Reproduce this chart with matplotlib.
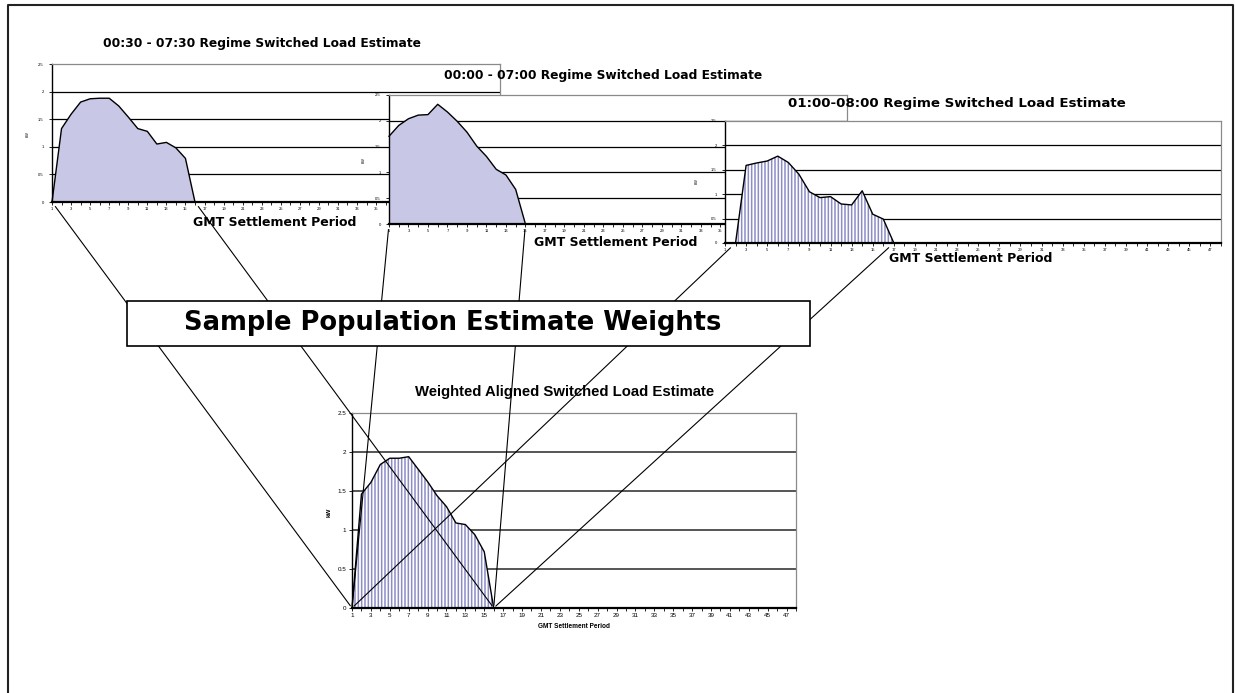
import numpy as np
import matplotlib.pyplot as plt
from matplotlib.patches import ConnectionPatch, Rectangle

plt.rcParams['font.family'] = ['Liberation Sans', 'DejaVu Sans']
plt.rcParams['hatch.linewidth'] = 1.1

W, H = 1235, 693

# settlement periods and axis labels
periods = np.arange(1, 49)
period_ticks = np.arange(1, 48, 2)
kw_ticks = [0, 0.5, 1, 1.5, 2, 2.5]
kw_labels = ['0', '0.5', '1', '1.5', '2', '2.5']

# switched load estimates (kW) per regime
load_0030 = [0.0, 1.33, 1.59, 1.81, 1.87, 1.88, 1.88, 1.74, 1.54, 1.33, 1.28, 1.05,
             1.08, 0.98, 0.79, 0.0, 0.0, 0.0, 0.0, 0.0, 0.0, 0.0, 0.0, 0.0,
             0.0, 0.0, 0.0, 0.0, 0.0, 0.0, 0.0, 0.0, 0.0, 0.0, 0.0, 0.0,
             0.0, 0.0, 0.0, 0.0, 0.0, 0.0, 0.0, 0.0, 0.0, 0.0, 0.0, 0.0]
load_0000 = [1.70, 1.91, 2.04, 2.11, 2.12, 2.32, 2.17, 1.99, 1.78, 1.51, 1.31, 1.06,
             0.95, 0.67, 0.0, 0.0, 0.0, 0.0, 0.0, 0.0, 0.0, 0.0, 0.0, 0.0,
             0.0, 0.0, 0.0, 0.0, 0.0, 0.0, 0.0, 0.0, 0.0, 0.0, 0.0, 0.0,
             0.0, 0.0, 0.0, 0.0, 0.0, 0.0, 0.0, 0.0, 0.0, 0.0, 0.0, 0.0]
load_0100 = [0.0, 0.0, 1.59, 1.64, 1.68, 1.78, 1.65, 1.41, 1.05, 0.93, 0.95, 0.80,
             0.78, 1.07, 0.59, 0.49, 0.0, 0.0, 0.0, 0.0, 0.0, 0.0, 0.0, 0.0,
             0.0, 0.0, 0.0, 0.0, 0.0, 0.0, 0.0, 0.0, 0.0, 0.0, 0.0, 0.0,
             0.0, 0.0, 0.0, 0.0, 0.0, 0.0, 0.0, 0.0, 0.0, 0.0, 0.0, 0.0]
load_weighted = [0.0, 1.46, 1.61, 1.84, 1.92, 1.92, 1.94, 1.78, 1.62, 1.44, 1.30, 1.09,
                 1.07, 0.94, 0.72, 0.0, 0.0, 0.0, 0.0, 0.0, 0.0, 0.0, 0.0, 0.0,
                 0.0, 0.0, 0.0, 0.0, 0.0, 0.0, 0.0, 0.0, 0.0, 0.0, 0.0, 0.0,
                 0.0, 0.0, 0.0, 0.0, 0.0, 0.0, 0.0, 0.0, 0.0, 0.0, 0.0, 0.0]

# first and last period of each load block (used for the connector lines)
span_0030 = (1, 16)
span_0000 = (1, 15)
span_0100 = (2, 17)
span_weighted = (1, 16)

fig = plt.figure(figsize=(W / 100, H / 100), dpi=100)


def px_axes(x0, y0, x1, y1, z):
    # axes placed by pixel box, origin top-left
    ax = fig.add_axes([x0 / W, 1 - y1 / H, (x1 - x0) / W, (y1 - y0) / H])
    ax.set_zorder(z)
    return ax


def draw_chart(ax, values, striped, tick_size, grid_color, grid_lw, ypad):
    ax.set_facecolor('white')
    ax.set_xlim(1, 48)
    ax.set_ylim(0, 2.5)
    for v in kw_ticks[1:-1]:
        ax.axhline(v, color=grid_color, lw=grid_lw, zorder=0.5)
    if striped:
        ax.fill_between(periods, values, 0, facecolor='white', edgecolor='#8c8cc8',
                        hatch='|||||', linewidth=0, zorder=1)
    else:
        ax.fill_between(periods, values, 0, facecolor='#c8c8e6', linewidth=0, zorder=1)
    ax.plot(periods, values, color='black', lw=1.0, zorder=2, clip_on=False)
    ax.set_xticks(period_ticks)
    ax.set_xticks(periods, minor=True)
    ax.set_xticklabels([str(p) for p in period_ticks])
    ax.set_yticks(kw_ticks)
    ax.set_yticklabels(kw_labels)
    ax.tick_params(axis='both', which='both', direction='out', length=2, width=0.6,
                   labelsize=tick_size)
    ax.tick_params(axis='y', pad=ypad)
    ax.tick_params(axis='x', pad=1.5)
    for side in ('top', 'right'):
        ax.spines[side].set_color('#8a8a8a')
        ax.spines[side].set_linewidth(0.9)
    ax.spines['left'].set_linewidth(1.0)
    ax.spines['bottom'].set_linewidth(1.6)


ax1 = px_axes(52, 64, 500, 202, 1)
draw_chart(ax1, load_0030, False, 3, 'black', 0.9, 4)

ax2 = px_axes(389, 95, 847, 224, 2)
draw_chart(ax2, load_0000, False, 3, 'black', 0.9, 4)

ax3 = px_axes(725, 121, 1221, 243, 3)
draw_chart(ax3, load_0100, True, 3, 'black', 0.9, 4)

ax4 = px_axes(352, 413, 796, 608, 4)
draw_chart(ax4, load_weighted, True, 4.5, '#555555', 1.4, 2)

# overlay in pixel coordinates for texts, connectors and the weights box
ov = fig.add_axes([0, 0, 1, 1])
ov.set_xlim(0, W)
ov.set_ylim(H, 0)
ov.axis('off')
ov.set_zorder(10)

wide = ['DejaVu Sans']
title_kw = dict(ha='center', va='center', fontsize=8.8, fontweight='bold', family=wide)
ov.text(262, 43, '00:30 - 07:30 Regime Switched Load Estimate', **title_kw)
ov.text(603, 75, '00:00 - 07:00 Regime Switched Load Estimate', **title_kw)
ov.text(957, 103, '01:00-08:00 Regime Switched Load Estimate',
        **dict(title_kw, fontsize=9.6))

xl_kw = dict(ha='center', va='center', fontsize=9, fontweight='bold', family=wide)
ov.text(275, 222, 'GMT Settlement Period', **xl_kw)
ov.text(616, 243, 'GMT Settlement Period', **xl_kw)
ov.text(971, 259, 'GMT Settlement Period', **xl_kw)

yl_kw = dict(ha='center', va='center', fontsize=3, rotation=90)
ov.text(28, 134, 'kW', **yl_kw)
ov.text(364, 160, 'kW', **yl_kw)
ov.text(697, 181, 'kW', **yl_kw)

ov.text(565, 392, 'Weighted Aligned Switched Load Estimate', ha='center', va='center',
        fontsize=10.7, fontweight='bold')
ov.text(574, 627, 'GMT Settlement Period', ha='center', va='center',
        fontsize=4.7, fontweight='bold')
ov.text(329, 512, 'kW', ha='center', va='center', fontsize=4.5,
        fontweight='bold', rotation=90)

# connector lines from each regime block onto the weighted chart
for ax, span, shrink in ((ax1, span_0030, 4), (ax2, span_0000, 4), (ax3, span_0100, 5)):
    for p_top, p_bot in zip(span, span_weighted):
        con = ConnectionPatch(xyA=(p_top, 0), coordsA=ax.transData,
                              xyB=(p_bot, 0), coordsB=ax4.transData,
                              arrowstyle='-', color='black', lw=0.8,
                              shrinkA=shrink, shrinkB=2, zorder=3)
        con.set_clip_on(False)
        ov.add_artist(con)

ov.add_patch(Rectangle((127, 301), 683, 45, facecolor='white', edgecolor='black',
                       lw=1.2, zorder=5))
ov.text(453, 323, 'Sample Population Estimate Weights', ha='center', va='center',
        fontsize=18.5, fontweight='bold', family=wide, zorder=6)

# outer frame
ov.plot([8, 8, 1233, 1233], [H + 5, 5, 5, H + 5], color='#222222', lw=1.5,
        clip_on=False, zorder=7)

fig.savefig('out.png', dpi=100, facecolor='white')
plt.close(fig)
